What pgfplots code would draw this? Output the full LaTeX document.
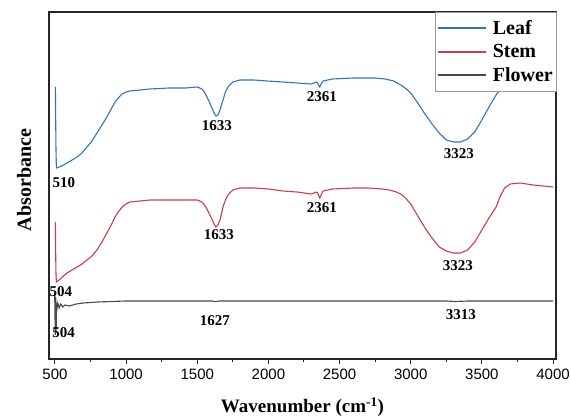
\documentclass[border=0pt]{standalone}
\usepackage{pgfplots}
\pgfplotsset{compat=1.18}
\usepackage{fontspec}
\setmainfont{Liberation Serif}
\newfontfamily\arialfont{Liberation Sans}
\definecolor{leafc}{RGB}{50,115,188}
\definecolor{stemc}{RGB}{205,62,64}
\definecolor{flowc}{RGB}{72,72,72}
\begin{document}
\begin{tikzpicture}
\begin{axis}[
  scale only axis,
  width=507pt, height=347pt,
  xmin=458, xmax=4021, ymin=60, ymax=407,
  xtick={500,1000,...,4000},
  minor x tick num=1,
  xtick pos=left,
  ytick=\empty,
  tick align=outside,
  major tick length=5pt,
  minor tick length=3pt,
  axis line style={black!85, line width=1.1pt},
  every tick/.style={black!85, line width=1pt},
  /pgf/number format/assume math mode=true,
  /pgf/number format/1000 sep={},
  xticklabel style={font=\arialfont\fontsize{15}{15}\selectfont, yshift=-2pt},
  xlabel={\textbf{Wavenumber (cm\textsuperscript{-1})}},
  ylabel={\textbf{Absorbance}},
  every axis x label/.style={at={(rel axis cs:0.5,0)}, anchor=center, yshift=-48pt, font=\fontsize{19}{19}\selectfont},
  every axis y label/.style={at={(rel axis cs:0,0.516)}, anchor=center, rotate=90, yshift=25pt, font=\fontsize{20}{20}\selectfont},
  legend style={at={(rel axis cs:1,1)}, anchor=north east, draw=black!40, fill=white,
    font=\bfseries\fontsize{20}{20}\selectfont, inner xsep=2pt, inner ysep=7pt,
    nodes={inner sep=1pt}, row sep=6.5pt,
    /tikz/every odd column/.append style={column sep=5pt}},
  legend cell align=left,
  legend image code/.code={\draw[#1, line width=2pt] (0pt,0pt) -- (48pt,0pt);},
  clip=false,
]
\coordinate (bl) at (rel axis cs:0,0);
\coordinate (tr) at (rel axis cs:1,1);
% Leaf
\addplot[leafc, line width=1.1pt] table {
x y
503 332
505 300
507 270
510 251
530 252
560 254
584 256
620 259
655 262
690 266
725 272
760 278
795 286
830 294
865 302
895 310
922 317
945 321
971 325
1000 327
1027 328
1100 329
1168 330
1300 331
1420 331
1500 332
1533 330
1550 327
1568 322
1585 317
1603 311
1618 306
1631 303
1645 304
1660 309
1670 314
1681 319
1698 327
1716 332
1735 335
1751 337
1800 339
1900 339
1990 338
2100 337
2200 336
2300 335
2340 337
2352 334
2361 332
2370 335
2385 338
2450 340
2600 341
2750 341
2820 340
2880 338
2930 334
2970 330
3000 326
3050 316
3100 305
3150 295
3200 286
3250 279
3300 277
3350 277
3400 280
3450 287
3500 299
3550 312
3600 324
3650 334
3700 345
3750 354
3800 362
3900 370
4000 372
};
\addlegendentry{Leaf}
% Stem
\addplot[stemc, line width=1.1pt] table {
x y
503 197
505 165
507 145
510 137
530 139
560 143
584 146
620 149
655 152
690 155
725 159
760 163
795 169
830 177
865 186
895 194
922 202
945 207
971 212
1000 215
1027 217
1100 218
1168 219
1300 219
1420 219
1500 219
1533 217
1550 214
1568 210
1585 205
1603 200
1618 195
1631 192
1645 194
1660 199
1670 205
1681 212
1698 219
1716 224
1735 227
1751 229
1800 231
1900 231
2000 230
2100 228
2200 227
2300 225
2340 227
2352 224
2361 221
2370 224
2385 228
2450 230
2600 231
2700 231
2800 230
2850 229
2900 227
2940 224
2970 220
3000 215
3050 203
3100 191
3150 181
3200 172
3250 168
3300 166
3350 166
3400 169
3450 177
3500 189
3550 201
3600 212
3630 223
3660 231
3700 235
3770 236
3860 234
4000 232
};
\addlegendentry{Stem}
% Flower
\addplot[flowc, line width=1.1pt] table {
x y
498 125
502 84
505 122
508 86
511 116
514 110
520 116
530 111
540 115
555 112
570 114
600 113
650 115
700 116
800 117
1000 118
1600 118
1627 117.5
1660 118
3250 118
3313 117.5
3400 118
4000 118
};
\addlegendentry{Flower}
\begin{scope}[font=\bfseries\fontsize{15}{15}\selectfont]
\node at (axis cs:563,236) {510};
\node at (axis cs:1638,293) {1633};
\node at (axis cs:2376,322) {2361};
\node at (axis cs:3339,265) {3323};
\node at (axis cs:1652,184) {1633};
\node at (axis cs:2376,211) {2361};
\node at (axis cs:3332,153) {3323};
\node at (axis cs:542,127) {504};
\node at (axis cs:560,86) {504};
\node at (axis cs:1624,98) {1627};
\node at (axis cs:3353,104) {3313};
\end{scope}
\end{axis}
\pgfresetboundingbox
\path ([shift={(-49pt,-60pt)}]bl) rectangle ([shift={(15pt,12pt)}]tr);
\end{tikzpicture}
\end{document}
